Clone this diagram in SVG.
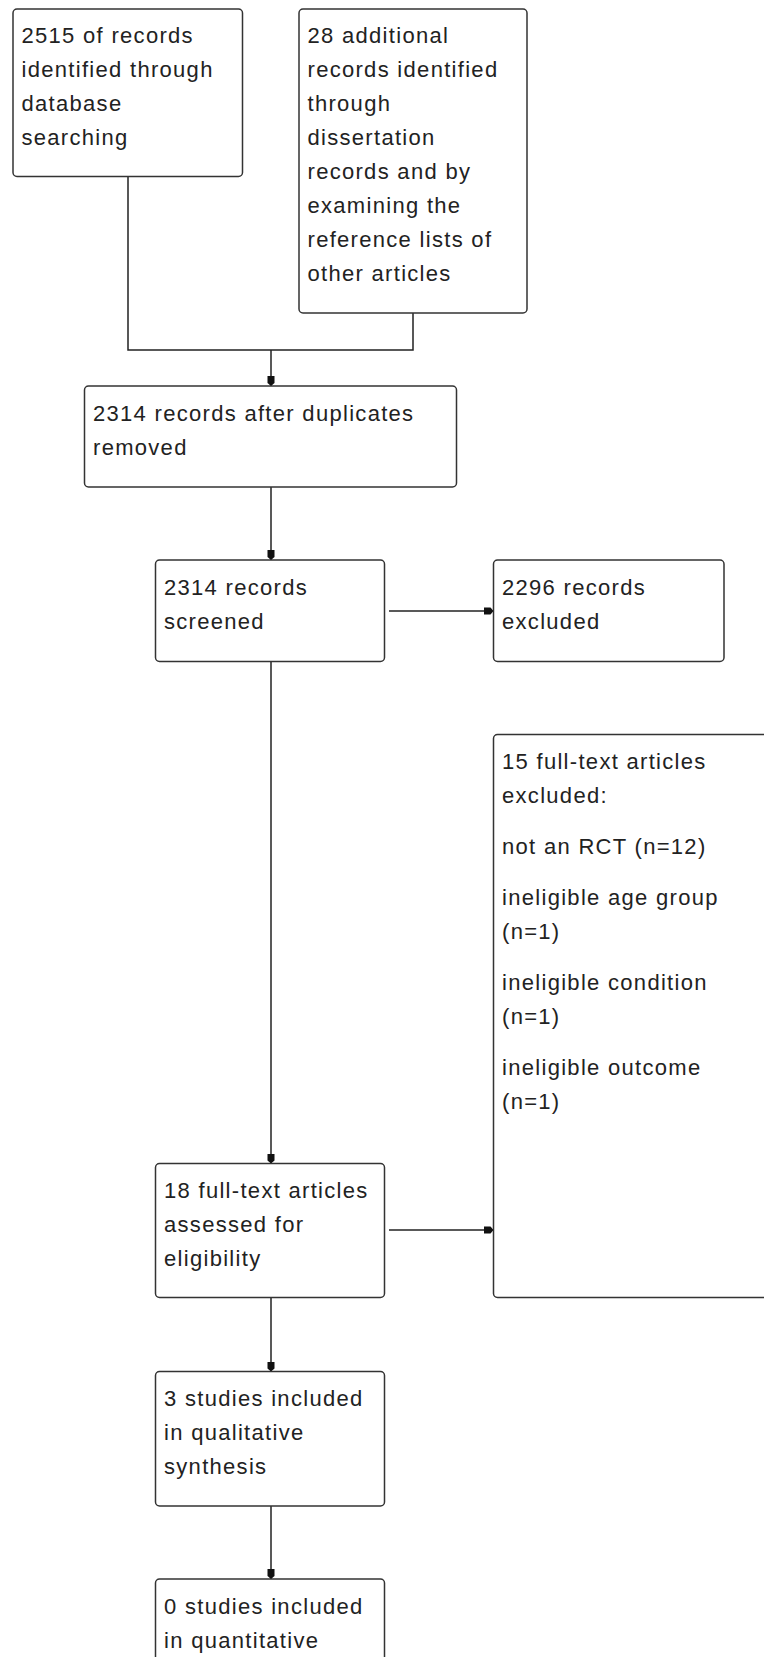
<svg xmlns="http://www.w3.org/2000/svg" width="764" height="1657" viewBox="0 0 764 1657">
<style>
.box{fill:#fff;stroke:#333;stroke-width:1.5}
.t{font-family:"Liberation Sans",Arial,sans-serif;font-size:22px;letter-spacing:1.3px;fill:#222}
.c{fill:none;stroke:#222;stroke-width:1.5}
</style>
<defs>
<marker id="ah" markerUnits="userSpaceOnUse" viewBox="0 0 10 8" refX="10" refY="4" markerWidth="10" markerHeight="8" orient="auto">
<path d="M0,0.5 L7,0.5 L10,4 L7,7.5 L0,7.5 z" fill="#111"/>
</marker>
</defs>
<rect width="764" height="1657" fill="#fff"/>
<g id="connectors">
<path class="c" d="M128,176.5 V350 H413 V313"/>
<path class="c" d="M271,350 V386" marker-end="url(#ah)"/>
<path class="c" d="M271,487 V560" marker-end="url(#ah)"/>
<path class="c" d="M389,611 H493.5" marker-end="url(#ah)"/>
<path class="c" d="M271,661.5 V1163.5" marker-end="url(#ah)"/>
<path class="c" d="M389,1230 H493.5" marker-end="url(#ah)"/>
<path class="c" d="M271,1297.5 V1371.5" marker-end="url(#ah)"/>
<path class="c" d="M271,1506 V1579" marker-end="url(#ah)"/>
</g>
<g id="n1">
<rect class="box" x="13" y="9" width="229.5" height="167.5" rx="4"/>
<text class="t" x="21.5" y="43">2515 of records</text>
<text class="t" x="21.5" y="77">identified through</text>
<text class="t" x="21.5" y="111">database</text>
<text class="t" x="21.5" y="145">searching</text>
</g>
<g id="n2">
<rect class="box" x="299" y="9" width="228" height="304" rx="4"/>
<text class="t" x="307.5" y="43">28 additional</text>
<text class="t" x="307.5" y="77">records identified</text>
<text class="t" x="307.5" y="111">through</text>
<text class="t" x="307.5" y="145">dissertation</text>
<text class="t" x="307.5" y="179">records and by</text>
<text class="t" x="307.5" y="213">examining the</text>
<text class="t" x="307.5" y="247">reference lists of</text>
<text class="t" x="307.5" y="281">other articles</text>
</g>
<g id="n3">
<rect class="box" x="84.5" y="386" width="372" height="101" rx="4"/>
<text class="t" x="93" y="421">2314 records after duplicates</text>
<text class="t" x="93" y="455">removed</text>
</g>
<g id="n4">
<rect class="box" x="155.5" y="560" width="229" height="101.5" rx="4"/>
<text class="t" x="164" y="595">2314 records</text>
<text class="t" x="164" y="629">screened</text>
</g>
<g id="n5">
<rect class="box" x="493.5" y="560" width="230.5" height="101.5" rx="4"/>
<text class="t" x="502" y="595">2296 records</text>
<text class="t" x="502" y="629">excluded</text>
</g>
<g id="n6">
<rect class="box" x="493.5" y="734.5" width="320" height="563" rx="4"/>
<text class="t" x="502" y="769">15 full-text articles</text>
<text class="t" x="502" y="803">excluded:</text>
<text class="t" x="502" y="854">not an RCT (n=12)</text>
<text class="t" x="502" y="905">ineligible age group</text>
<text class="t" x="502" y="939">(n=1)</text>
<text class="t" x="502" y="990">ineligible condition</text>
<text class="t" x="502" y="1024">(n=1)</text>
<text class="t" x="502" y="1075">ineligible outcome</text>
<text class="t" x="502" y="1109">(n=1)</text>
</g>
<g id="n7">
<rect class="box" x="155.5" y="1163.5" width="229" height="134" rx="4"/>
<text class="t" x="164" y="1198">18 full-text articles</text>
<text class="t" x="164" y="1232">assessed for</text>
<text class="t" x="164" y="1266">eligibility</text>
</g>
<g id="n8">
<rect class="box" x="155.5" y="1371.5" width="229" height="134.5" rx="4"/>
<text class="t" x="164" y="1406">3 studies included</text>
<text class="t" x="164" y="1440">in qualitative</text>
<text class="t" x="164" y="1474">synthesis</text>
</g>
<g id="n9">
<rect class="box" x="155.5" y="1579" width="229" height="134" rx="4"/>
<text class="t" x="164" y="1614">0 studies included</text>
<text class="t" x="164" y="1648">in quantitative</text>
</g>
</svg>
